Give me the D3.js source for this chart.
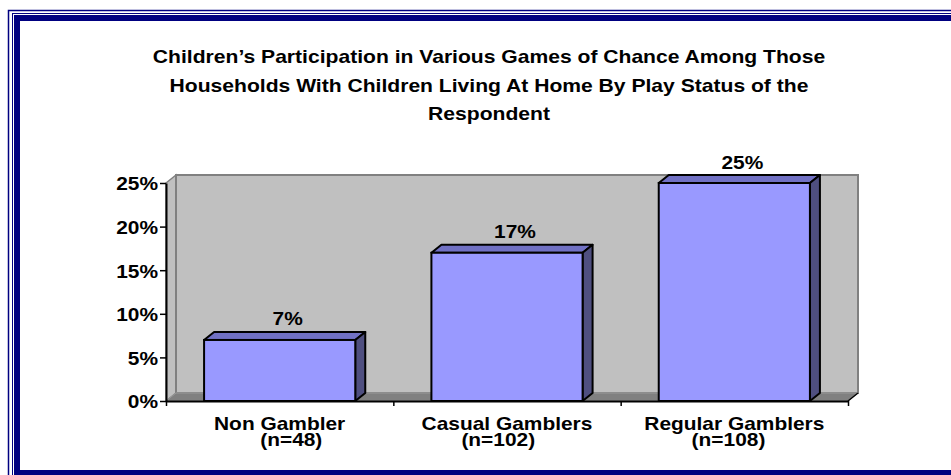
<!DOCTYPE html>
<html>
<head>
<meta charset="utf-8">
<script src="https://cdn.jsdelivr.net/npm/d3@7"></script>
<style>
  html, body { margin: 0; padding: 0; background: #fff; }
  svg { display: block; }
  text { font-family: "Liberation Sans", Arial, sans-serif; font-weight: bold; fill: #000; white-space: pre; }
</style>
</head>
<body>
<svg id="chart" width="951" height="475"></svg>
<script>
// Chart data
const titleLines = [
  "Children\u2019s Participation in Various Games of Chance Among Those",
  "Households With Children Living At Home By Play Status of the",
  "Respondent"
];
const categories = ["Non Gambler", "Casual Gamblers", "Regular Gamblers"];
const sampleLabels = ["    (n=48)", "(n=102)   ", "(n=108)  "];
const values = [7, 17, 25];
const yTicks = [0, 5, 10, 15, 20, 25];

const svg = d3.select("#chart");
const W = 951, H = 475;
const navy = "#000080";
const fontSize = 19;
const depth = { dx: 10, dy: -8 }; // 3-D offset of back planes

// Widen text horizontally by a factor
function widen(sel, k = 1.1) {
  sel.each(function () {
    const len = this.getComputedTextLength();
    d3.select(this).attr("textLength", len * k).attr("lengthAdjust", "spacingAndGlyphs");
  });
  return sel;
}

// Frame: thin outer rule plus a heavy inner band
svg.append("rect").attr("x", 8.5).attr("y", 10.5).attr("width", W + 20).attr("height", H + 20)
  .attr("fill", "none").attr("stroke", navy).attr("stroke-width", 1.5);
svg.append("rect").attr("x", 12.5).attr("y", 13.5).attr("width", W + 20).attr("height", H + 20)
  .attr("fill", "none").attr("stroke", navy).attr("stroke-width", 1);
svg.append("path")
  .attr("d", `M14,15H${W + 10}V${H + 10}H14Z M20,21V470H${W + 5}V21Z`)
  .attr("fill", navy).attr("fill-rule", "evenodd");

// Title
const title = svg.append("g");
titleLines.forEach((t, i) => {
  title.append("text").attr("x", 489).attr("y", 63 + i * 28.7)
    .attr("text-anchor", "middle").attr("font-size", fontSize).text(t);
});
widen(title.selectAll("text"), 1.11);

// Scales
const x0 = 166, x1 = 848;
const y = d3.scaleLinear().domain([0, 25]).range([401, 183]);
const x = d3.scaleBand().domain(categories).range([x0, x1])
  .paddingInner(0.335).paddingOuter(0.1675);
const xEdge = d3.scaleLinear().domain([0, categories.length]).range([x0, x1]);

const g = svg.append("g");
const yTop = y(25), yBot = y(0);
const pt = (px, py) => `${px},${py}`;

// Side wall
g.append("polygon")
  .attr("points", [pt(x0, yTop), pt(x0 + depth.dx, yTop + depth.dy), pt(x0 + depth.dx, yBot + depth.dy), pt(x0, yBot)].join(" "))
  .attr("fill", "#C0C0C0").attr("stroke", "#808080").attr("stroke-width", 1.5);
// Back wall
g.append("rect")
  .attr("x", x0 + depth.dx).attr("y", yTop + depth.dy)
  .attr("width", x1 - x0).attr("height", yBot - yTop)
  .attr("fill", "#C0C0C0").attr("stroke", "#808080").attr("stroke-width", 2);
// Floor
g.append("polygon")
  .attr("points", [pt(x0, yBot), pt(x0 + depth.dx, yBot + depth.dy), pt(x1 + depth.dx, yBot + depth.dy), pt(x1, yBot)].join(" "))
  .attr("fill", "#808080").attr("stroke", "#9a9a9a").attr("stroke-width", 1);

// Bars
const bars = g.selectAll("g.bar").data(categories.map((c, i) => ({ c, v: values[i] })))
  .join("g").attr("class", "bar");
bars.append("polygon") // top face
  .attr("points", d => {
    const l = x(d.c), r = l + x.bandwidth(), t = y(d.v);
    return [pt(l, t), pt(l + depth.dx, t + depth.dy), pt(r + depth.dx, t + depth.dy), pt(r, t)].join(" ");
  })
  .attr("fill", "#7171C4").attr("stroke", "#000").attr("stroke-width", 2).attr("stroke-linejoin", "round");
bars.append("polygon") // side face
  .attr("points", d => {
    const r = x(d.c) + x.bandwidth(), t = y(d.v);
    return [pt(r, t), pt(r + depth.dx, t + depth.dy), pt(r + depth.dx, yBot + depth.dy), pt(r, yBot)].join(" ");
  })
  .attr("fill", "#4F4F80").attr("stroke", "#000").attr("stroke-width", 2).attr("stroke-linejoin", "round");
bars.append("rect") // front face
  .attr("x", d => x(d.c)).attr("y", d => y(d.v))
  .attr("width", x.bandwidth()).attr("height", d => yBot - y(d.v))
  .attr("fill", "#9999FF").attr("stroke", "#000").attr("stroke-width", 2);

// Value labels
const vl = bars.append("text")
  .attr("x", d => x(d.c) + x.bandwidth() / 2 + depth.dx * 0.8)
  .attr("y", d => y(d.v) + depth.dy - 6.5)
  .attr("text-anchor", "middle").attr("font-size", fontSize)
  .text(d => d.v + "%");
widen(vl);

// Y axis
const yAxis = svg.append("g").attr("transform", `translate(${x0},0)`)
  .call(d3.axisLeft(y).tickValues(yTicks).tickFormat(d => d + "%").tickSize(6).tickSizeOuter(0));
yAxis.select(".domain").attr("stroke", "#000").attr("stroke-width", 2);
yAxis.selectAll(".tick line").attr("stroke", "#000").attr("stroke-width", 1.5);
yAxis.selectAll(".tick text").attr("font-size", fontSize).attr("font-family", null)
  .attr("x", -8).attr("dy", "0.36em");
widen(yAxis.selectAll(".tick text"));

// X axis
const xAxis = svg.append("g").attr("transform", `translate(0,${yBot})`)
  .call(d3.axisBottom(xEdge).tickValues(d3.range(categories.length + 1)).tickFormat("").tickSize(5).tickSizeOuter(0));
xAxis.select(".domain").attr("stroke", "#000").attr("stroke-width", 2);
xAxis.selectAll(".tick line").attr("stroke", "#000").attr("stroke-width", 1.5);
svg.append("line")
  .attr("x1", x1).attr("y1", yBot).attr("x2", x1 + depth.dx).attr("y2", yBot + depth.dy)
  .attr("stroke", "#000").attr("stroke-width", 1.5);

// Category labels (two lines each)
const cl = svg.append("g");
categories.forEach((c, i) => {
  const cx = x(c) + x.bandwidth() / 2;
  cl.append("text").attr("x", cx).attr("y", 430).attr("text-anchor", "middle").attr("font-size", fontSize).text(c);
  cl.append("text").attr("x", cx).attr("y", 446).attr("text-anchor", "middle").attr("font-size", fontSize).text(sampleLabels[i]);
});
widen(cl.selectAll("text"));
</script>
</body>
</html>
